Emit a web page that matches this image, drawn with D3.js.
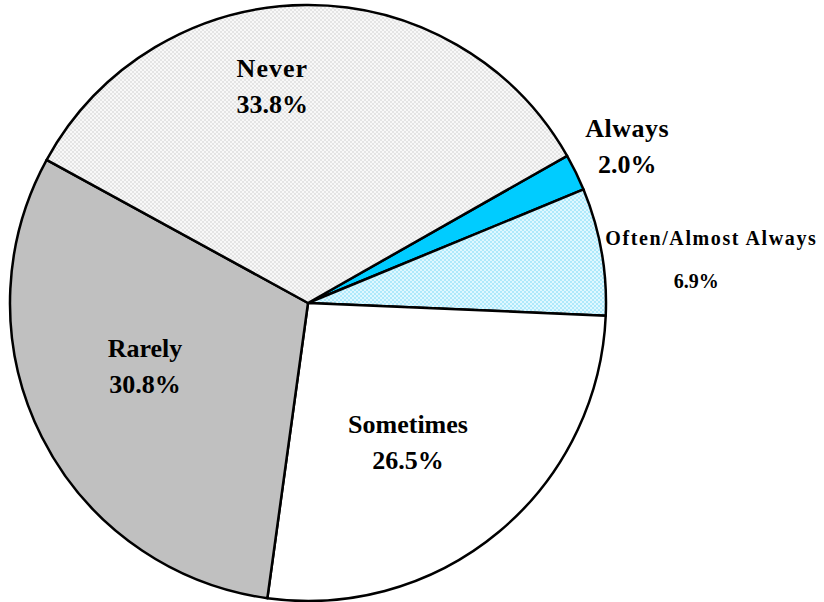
<!DOCTYPE html>
<html>
<head>
<meta charset="utf-8">
<script src="https://cdn.jsdelivr.net/npm/d3@7"></script>
<style>
  body { margin: 0; background: #fff; }
  text { font-family: "Liberation Serif", "Times New Roman", serif; font-weight: bold; fill: #000; }
</style>
</head>
<body>
<div id="chart"></div>
<script>
// slices in drawing order (clockwise, starting at the Always slice)
var categories = ["Always", "Often/Almost Always", "Sometimes", "Rarely", "Never"];
var percents = [2.0, 6.9, 26.5, 30.8, 33.8];

var width = 824,
    height = 602;

var cx = 308, cy = 303, radius = 298;
var startDeg = 60.4;

var fills = ["#00ccff", "url(#dotsBlue)", "#ffffff", "#c0c0c0", "url(#dotsGray)"];

// label placement: radius from centre and angle offset (deg) from slice middle
var labelPlace = [
    { r: 352, da: 1.1, size: 26, spacing: 0.5, pct: 26, dx: 0 },
    { r: 405, da: 4.8, size: 20, spacing: 1.6, pct: 20, dx: -15 },
    { r: 179, da: 5.9, size: 26, spacing: 0, pct: 26, dx: 0 },
    { r: 178, da: 3.0, size: 26, spacing: 0, pct: 26, dx: 0 },
    { r: 211, da: -9.3, size: 26, spacing: 1, pct: 26, dx: 0 }
];

var svg = d3.select("#chart").append("svg")
    .attr("width", width)
    .attr("height", height);

var defs = svg.append("defs");

function checker(id, bg, fg) {
    var p = defs.append("pattern")
        .attr("id", id)
        .attr("width", 4)
        .attr("height", 4)
        .attr("patternUnits", "userSpaceOnUse");
    p.append("rect").attr("width", 4).attr("height", 4).attr("fill", bg);
    p.append("rect").attr("x", 0).attr("y", 0).attr("width", 2).attr("height", 2).attr("fill", fg);
    p.append("rect").attr("x", 2).attr("y", 2).attr("width", 2).attr("height", 2).attr("fill", fg);
}
checker("dotsGray", "#f8f8f8", "#e4e4e4");
checker("dotsBlue", "#e0f8ff", "#aee9fb");

var pie = d3.pie()
    .sort(null)
    .value(function (d) { return d; })
    .startAngle(startDeg * Math.PI / 180)
    .endAngle(startDeg * Math.PI / 180 + 2 * Math.PI);

var arc = d3.arc()
    .innerRadius(0)
    .outerRadius(radius);

var arcs = pie(percents);

var g = svg.append("g")
    .attr("transform", "translate(" + cx + "," + cy + ")");

g.selectAll("path")
    .data(arcs)
    .enter().append("path")
    .attr("d", arc)
    .attr("fill", function (d, i) { return fills[i]; })
    .attr("stroke", "#000")
    .attr("stroke-width", 2.5)
    .attr("stroke-linejoin", "round");

var labels = g.selectAll("g.label")
    .data(arcs)
    .enter().append("g")
    .attr("class", "label")
    .attr("transform", function (d, i) {
        var lp = labelPlace[i];
        var a = (d.startAngle + d.endAngle) / 2 + lp.da * Math.PI / 180;
        return "translate(" + (lp.r * Math.sin(a)) + "," + (-lp.r * Math.cos(a)) + ")";
    });

labels.append("text")
    .attr("text-anchor", "middle")
    .attr("y", function (d, i) { return i === 1 ? -21 : -18; })
    .style("font-size", function (d, i) { return labelPlace[i].size + "px"; })
    .style("letter-spacing", function (d, i) { return labelPlace[i].spacing + "px"; })
    .text(function (d, i) { return categories[i]; });

labels.append("text")
    .attr("text-anchor", "middle")
    .attr("x", function (d, i) { return labelPlace[i].dx; })
    .attr("y", function (d, i) { return i === 1 ? 22 : 18; })
    .style("font-size", function (d, i) { return labelPlace[i].pct + "px"; })
    .text(function (d) { return d.data.toFixed(1) + "%"; });
</script>
</body>
</html>
